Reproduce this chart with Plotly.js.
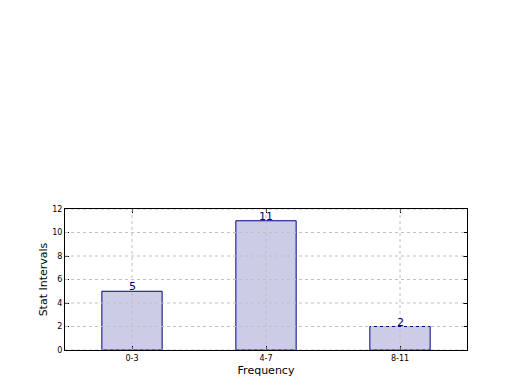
<!DOCTYPE html>
<html><head><meta charset="utf-8">
<script src="https://cdn.plot.ly/plotly-3.0.1.min.js"></script>
<style>body{margin:0;padding:0;background:#fff}#chart{width:520px;height:390px}</style>
</head><body><div id="chart"></div>
<script>
const categories = ["0-3", "4-7", "8-11"];
const values = [5, 11, 2];
const yTicks = [0, 2, 4, 6, 8, 10, 12];

const gridColor = "#c0c0c0";
const shapes = [];
yTicks.forEach(v => shapes.push({type:"line", xref:"paper", yref:"y", x0:0, x1:1, y0:v, y1:v,
  line:{color:gridColor, width:1, dash:"dot"}, layer:"above"}));
categories.forEach(c => shapes.push({type:"line", xref:"x", yref:"paper", x0:c, x1:c, y0:0, y1:1,
  line:{color:gridColor, width:1, dash:"dot"}, layer:"above"}));

const annotations = categories.map((c, i) => ({x:c, y:values[i], xref:"x", yref:"y",
  text:String(values[i]), showarrow:false, yanchor:"bottom", xanchor:"center", yshift:-4,
  font:{family:"DejaVu Sans", size:11, color:"#00008b"}}));

const data = [
  {type:"bar", x:categories, y:values, width:0.45,
   marker:{color:"rgba(0,0,128,0.2)", line:{color:"#000080", width:1}},
   hoverinfo:"none"}
];

const axisCommon = {showline:true, mirror:"ticks", linecolor:"#000", linewidth:1,
  ticks:"inside", ticklen:4, tickcolor:"#000", zeroline:false, showgrid:false,
  tickfont:{family:"DejaVu Sans", size:8, color:"#000"}};

const layout = {
  width:520, height:390, showlegend:false,
  paper_bgcolor:"#fff", plot_bgcolor:"#fff",
  margin:{l:65, r:53, t:209, b:40},
  font:{family:"DejaVu Sans"},
  bargap:0,
  xaxis:Object.assign({}, axisCommon, {type:"category", range:[-0.5, 2.5],
    title:{text:"Frequency", font:{size:11, color:"#000"}, standoff:4}}),
  yaxis:Object.assign({}, axisCommon, {range:[0, 12], tickvals:yTicks,
    title:{text:"Stat Intervals", font:{size:11, color:"#000"}, standoff:2}}),
  shapes:shapes, annotations:annotations
};
Plotly.newPlot("chart", data, layout, {displayModeBar:false, staticPlot:true});
</script></body></html>
